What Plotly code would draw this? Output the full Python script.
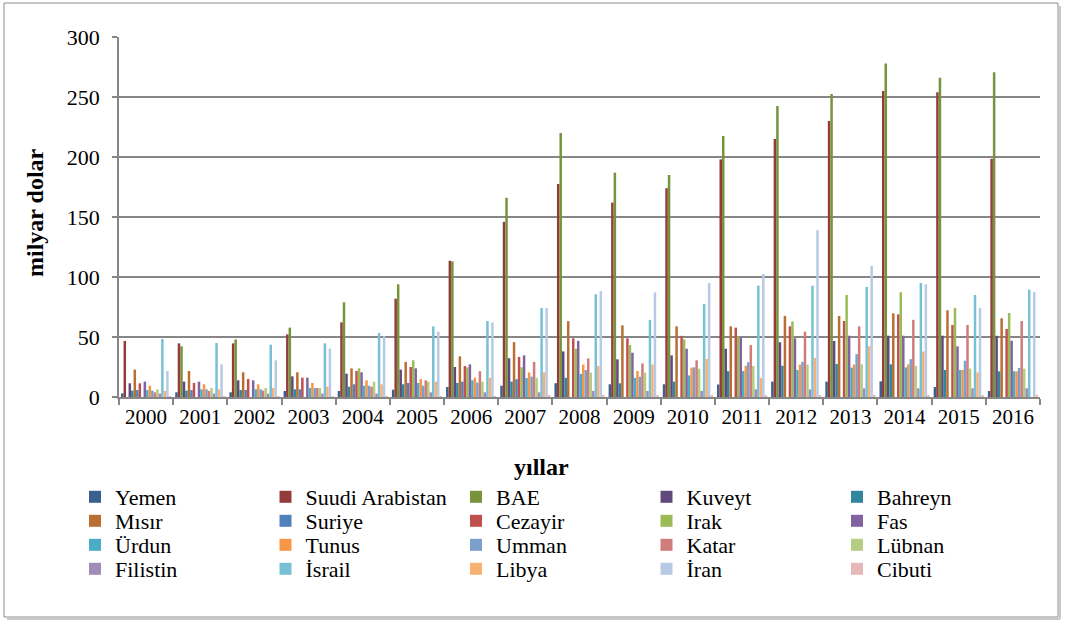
import plotly.graph_objects as go

years = [str(y) for y in range(2000, 2017)]

countries = ["Yemen", "Suudi Arabistan", "BAE", "Kuveyt", "Bahreyn",
             "Mısır", "Suriye", "Cezayir", "Irak", "Fas",
             "Ürdun", "Tunus", "Umman", "Katar", "Lübnan",
             "Filistin", "İsrail", "Libya", "İran", "Cibuti"]

yemen = [3, 3.9, 3.9, 5, 5, 6.1, 8.3, 9.4, 11.5, 10.6, 10.6, 10.4, 12.8, 12.8, 13, 8.3, 5]
suudi = [46.7, 44.7, 44.7, 52.2, 62.2, 81.9, 113.5, 146, 177.5, 162, 174, 198, 215, 230, 255, 254, 198.5]
bae = [None, 42.2, 48, 57.8, 78.9, 93.9, 113, 166, 220, 187, 185, 217.5, 242.5, 252.5, 278, 266, 270.6]
kuveyt = [11.4, 12.8, 13.9, 17.2, 19.4, 22.8, 25, 32.3, 38, 31.4, 34.7, 40.2, 45.6, 46.7, 51.1, 51.1, 51]
bahreyn = [5.3, 5.3, 5.8, 6.4, 8.6, 10.6, 11.7, 12.8, 16, 11.4, 12.8, 21.5, 26, 27.5, 27.2, 22.5, 21.4]
misir = [22.8, 21.7, 20.6, 20.6, 23.9, 29.2, 33.9, 45.7, 63.2, 59.7, 58.9, 58.9, 67.6, 67.5, 69.7, 72.3, 65.6]
suriye = [5.8, 5.8, 5.8, 6.4, 10.6, 11.7, 12.8, 14.8, None, None, None, None, None, None, None, None, None]
cezayir = [11.4, 11.7, 15, 16.1, 21.7, 25, 25.8, 33.4, 48.9, 48.9, 51, 57.8, 58.9, 63.3, 68.9, 60, 56.7]
irak = [None, None, None, None, 23.9, 30.6, 24.7, 24.8, 40.2, 43.3, 48, 50.5, 63, 85, 87.3, 74.2, 70]
fas = [12.8, 12.8, 13.9, 16.1, 20.6, 23.9, 27.2, 34.7, 46.8, 36.9, 40.2, 49.5, 48.9, 51.1, 51.1, 42.2, 46.9]
urdun = [5.8, 6.4, 6.4, 7.5, 9.4, 11.7, 13.9, 15.8, 19.2, 15.9, 18, 21.6, 22.5, 24.5, 24.7, 22.5, 21.4]
tunus = [9.4, 10.6, 10.6, 11.7, 13.9, 15, 16.1, 20.5, 27, 21.7, 24.5, 26, 27, 27, 27.2, 22.5, 21.4]
umman = [5.3, 6.4, 6.4, 7.5, 9.4, 9.4, 12, 17, 22.5, 16.9, 24.7, 29, 29.3, 35.7, 31.5, 30.2, 24.2]
katar = [3.9, 5, 5.3, 7.5, 8.6, 13.9, 21.5, 29.2, 32.2, 28, 30.6, 43.3, 54.4, 58.9, 64.3, 60, 63.3]
lubnan = [6.4, 7.5, 7.5, 7.5, 12.8, 12.8, 12.8, 16, 20.3, 20.3, 23.6, 25.8, 27, 27.2, 26, 23.7, 23.6]
filistin = [2.8, 2.8, 2.8, 2.8, 2.8, 3.9, 3.9, 3.9, 5, 5, 5, 6.4, 6.3, 7.2, 7.2, 7.2, 7.2]
israil = [48.3, 45, 43.6, 44.7, 53.3, 58.9, 63.3, 74.2, 85.6, 64.3, 77.5, 92.8, 92.8, 91.7, 95, 85, 89.4]
libya = [5, 6.4, 7.5, 8.6, 10.6, 12.8, 16.1, 20.5, 25.8, 26.9, 31.7, 15.8, 32.6, 42.3, 37.9, 20.5, None]
iran = [21.7, 27.2, 30.6, 40.3, 50.6, 54.4, 62.2, 74.2, 88.3, 87.2, 95, 102.5, 139, 109.2, 93.9, 74.3, 87.5]
cibuti = [0.5, 0.5, 0.5, 0.6, 0.6, 0.7, 0.8, 0.9, 1, 1, 1.1, 1.2, 1.4, 1.5, 1.6, 1.7, 1.9]

series = [yemen, suudi, bae, kuveyt, bahreyn, misir, suriye, cezayir, irak, fas,
          urdun, tunus, umman, katar, lubnan, filistin, israil, libya, iran, cibuti]

colors = ["#3B5F8E", "#943C3A", "#77933C", "#604A7B", "#31859C",
          "#B96F32", "#4F81BD", "#C0504D", "#9BBB59", "#8064A2",
          "#4BACC6", "#F79646", "#7BA0CD", "#D07C7A", "#B4CC83",
          "#A08BB9", "#78C1D4", "#F9B074", "#B7CAE5", "#E6B9B8"]

FONT = "Liberation Serif, Times New Roman, serif"

# plot area in pixels
L, R, T, B = 119, 1040, 37, 397
W, H = R - L, B - T

def px(x):
    return (x - L) / W

def py(y):
    return (B - y) / H

fig = go.Figure()
legend_names = ["legend", "legend2", "legend3", "legend4"]
for i, (name, vals, col) in enumerate(zip(countries, series, colors)):
    fig.add_trace(go.Bar(
        x=years, y=vals, name=name,
        marker=dict(color=col, line=dict(width=0)),
        legend=legend_names[i // 5],
    ))

row_y = [497, 521, 545, 569]
legend_common = dict(
    orientation="h", xanchor="left", yanchor="middle",
    x=px(75), entrywidth=145.5, entrywidthmode="pixels",
    font=dict(family=FONT, size=22, color="black"),
    bgcolor="rgba(0,0,0,0)", borderwidth=0, traceorder="normal",
)
layout_legends = {}
for k, ln in enumerate(legend_names):
    layout_legends[ln] = dict(legend_common, y=py(row_y[k]))

fig.update_layout(
    width=1065, height=623,
    margin=dict(l=L, r=1065 - R, t=T, b=623 - B),
    paper_bgcolor="white", plot_bgcolor="white",
    barmode="group", bargap=0.075, bargroupgap=0,
    font=dict(family=FONT, size=21, color="black"),
    showlegend=True,
    xaxis=dict(
        type="category", showgrid=False, showline=True, linecolor="#868686", linewidth=1.5,
        ticks="outside", tickson="boundaries", ticklen=6, tickcolor="#868686", tickwidth=1.5,
        tickfont=dict(family=FONT, size=21, color="black"),
    ),
    yaxis=dict(
        range=[0, 300], dtick=50, showgrid=True, gridcolor="#868686", gridwidth=1.5,
        showline=True, linecolor="#868686", linewidth=1.5,
        ticks="outside", ticklen=5, tickcolor="#868686", tickwidth=1.5,
        tickfont=dict(family=FONT, size=22, color="black"),
        ticklabelstandoff=8, zeroline=False,
    ),
    annotations=[
        dict(text="<b>milyar dolar</b>", x=px(35), y=py(213), xref="paper", yref="paper",
             textangle=-90, showarrow=False, font=dict(family=FONT, size=24, color="black"),
             xanchor="center", yanchor="middle"),
        dict(text="<b>yıllar</b>", x=px(541), y=py(467), xref="paper", yref="paper",
             showarrow=False, font=dict(family=FONT, size=24, color="black"),
             xanchor="center", yanchor="middle"),
    ],
    shapes=[
        dict(type="rect", xref="paper", yref="paper", x0=px(4), x1=px(1058), y0=py(617), y1=py(3),
             line=dict(color="#8C8C8C", width=1), layer="below"),
        dict(type="line", xref="paper", yref="paper", x0=px(1060), x1=px(1060), y0=py(619), y1=py(6),
             line=dict(color="#C8C8C8", width=2), layer="below"),
        dict(type="line", xref="paper", yref="paper", x0=px(7), x1=px(1060), y0=py(619), y1=py(619),
             line=dict(color="#C8C8C8", width=2), layer="below"),
    ],
    **layout_legends,
)

fig.write_html(
    "out.html",
    config={"displayModeBar": False},
    post_script="document.body.style.margin='0';document.body.style.overflow='hidden';",
)
